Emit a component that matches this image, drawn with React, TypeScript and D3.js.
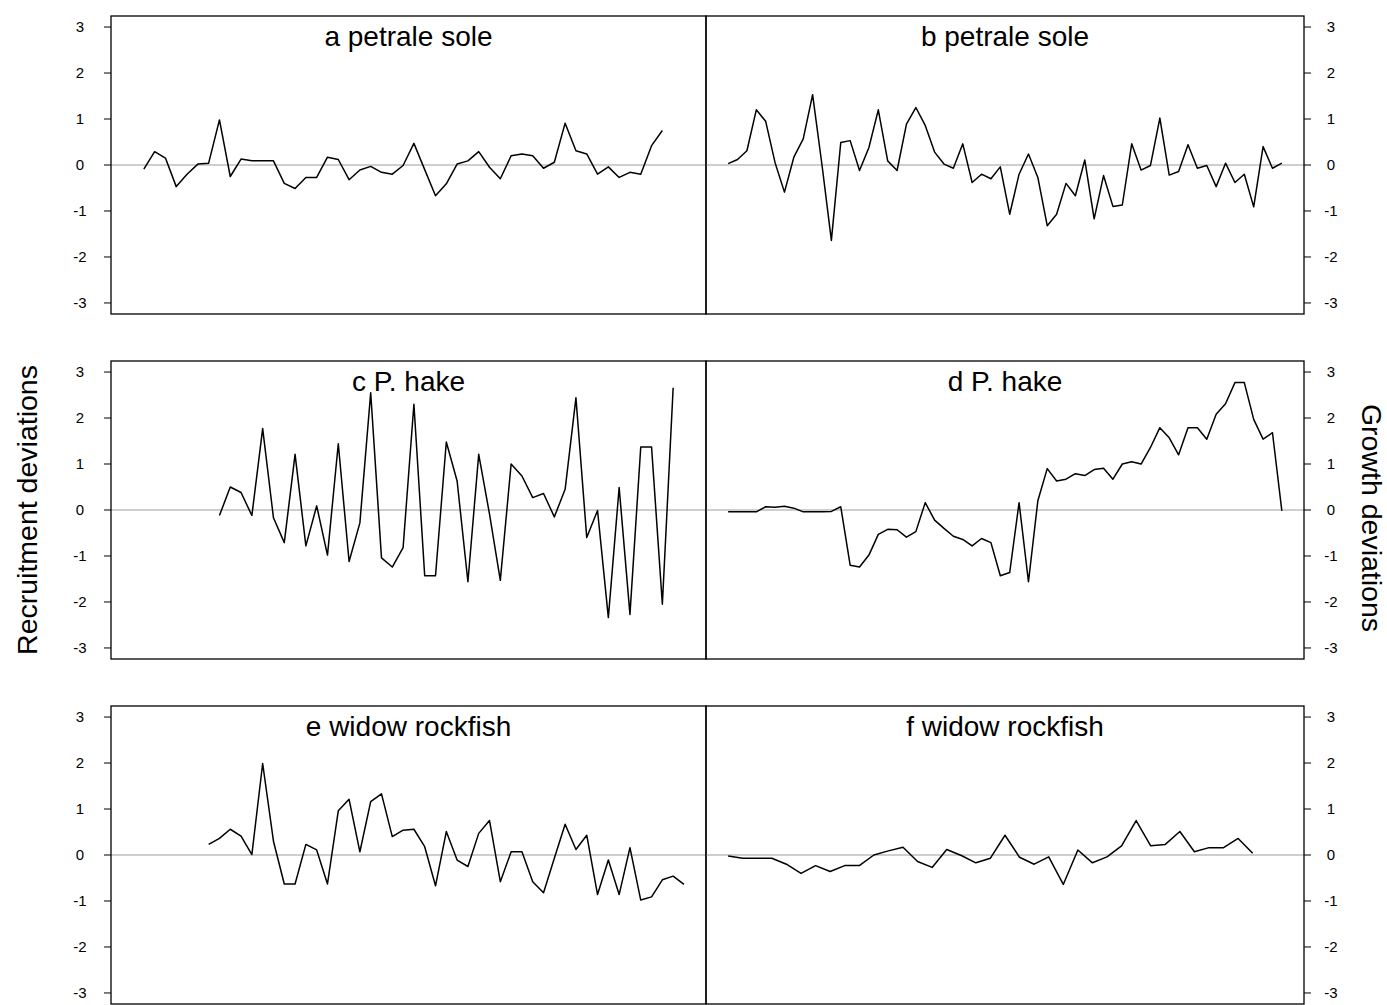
import React from "react";
import * as d3 from "d3";

// recruitment deviations (left column), index = year slot from 0..51
const petraleRec = [-0.09, 0.29, 0.15, -0.47, -0.2, 0.02, 0.04, 0.98, -0.25, 0.13, 0.09, 0.09, 0.09, -0.4, -0.51, -0.27, -0.27, 0.17, 0.12, -0.32, -0.11, -0.03, -0.16, -0.2, -0.01, 0.47, -0.1, -0.67, -0.41, 0.02, 0.09, 0.29, -0.05, -0.3, 0.2, 0.24, 0.2, -0.07, 0.06, 0.91, 0.31, 0.24, -0.2, -0.04, -0.27, -0.16, -0.2, 0.42, 0.75];
const hakeRec = [-0.12, 0.5, 0.38, -0.12, 1.77, -0.17, -0.71, 1.21, -0.78, 0.09, -0.98, 1.44, -1.12, -0.28, 2.55, -1.04, -1.24, -0.82, 2.3, -1.43, -1.43, 1.48, 0.63, -1.56, 1.21, -0.09, -1.53, 1.0, 0.74, 0.27, 0.36, -0.15, 0.45, 2.44, -0.6, -0.01, -2.34, 0.49, -2.27, 1.37, 1.37, -2.05, 2.66];
const widowRec = [0.23, 0.36, 0.56, 0.41, 0.01, 1.99, 0.3, -0.63, -0.63, 0.23, 0.11, -0.63, 0.96, 1.21, 0.07, 1.16, 1.33, 0.4, 0.54, 0.56, 0.18, -0.67, 0.51, -0.11, -0.25, 0.47, 0.75, -0.58, 0.07, 0.07, -0.58, -0.82, -0.07, 0.67, 0.12, 0.43, -0.86, -0.11, -0.86, 0.16, -0.98, -0.91, -0.54, -0.46, -0.64];

// growth deviations (right column)
const petraleGrowth = [0.03, 0.12, 0.31, 1.2, 0.95, 0.05, -0.59, 0.17, 0.57, 1.53, 0.0, -1.64, 0.49, 0.53, -0.12, 0.38, 1.2, 0.09, -0.12, 0.89, 1.25, 0.86, 0.28, 0.02, -0.07, 0.46, -0.38, -0.2, -0.3, -0.04, -1.07, -0.2, 0.24, -0.27, -1.32, -1.07, -0.4, -0.67, 0.11, -1.17, -0.23, -0.9, -0.87, 0.46, -0.11, -0.01, 1.02, -0.22, -0.14, 0.44, -0.07, -0.01, -0.47, 0.04, -0.38, -0.2, -0.91, 0.4, -0.07, 0.04];
const hakeGrowth = [-0.04, -0.04, -0.04, -0.04, 0.07, 0.06, 0.08, 0.04, -0.04, -0.04, -0.04, -0.03, 0.07, -1.2, -1.24, -0.98, -0.53, -0.42, -0.43, -0.59, -0.47, 0.16, -0.22, -0.4, -0.57, -0.64, -0.78, -0.62, -0.71, -1.43, -1.36, 0.16, -1.56, 0.2, 0.9, 0.63, 0.67, 0.79, 0.75, 0.88, 0.91, 0.67, 1.0, 1.05, 1.0, 1.36, 1.79, 1.57, 1.2, 1.79, 1.79, 1.54, 2.08, 2.31, 2.77, 2.77, 1.97, 1.54, 1.68, -0.02];
const widowGrowth = [-0.02, -0.07, -0.07, -0.07, -0.2, -0.4, -0.23, -0.36, -0.23, -0.23, 0.0, 0.09, 0.17, -0.14, -0.27, 0.12, -0.01, -0.17, -0.07, 0.43, -0.05, -0.2, -0.04, -0.64, 0.11, -0.17, -0.04, 0.2, 0.75, 0.2, 0.23, 0.51, 0.07, 0.16, 0.16, 0.36, 0.04];

const yTicks = [-3, -2, -1, 0, 1, 2, 3];

const panels = [
  { title: "a petrale sole", col: 0, row: 0, values: petraleRec, start: 1, last: 51 },
  { title: "b petrale sole", col: 1, row: 0, values: petraleGrowth, start: 0, last: 59 },
  { title: "c P. hake", col: 0, row: 1, values: hakeRec, start: 8, last: 51 },
  { title: "d P. hake", col: 1, row: 1, values: hakeGrowth, start: 0, last: 59 },
  { title: "e widow rockfish", col: 0, row: 2, values: widowRec, start: 7, last: 51 },
  { title: "f widow rockfish", col: 1, row: 2, values: widowGrowth, start: 0, last: 38 },
];

const colX = [111, 706, 1304];
const rowTop = [16, 361, 706];
const panelH = 298;
const font = "'Liberation Sans', Arial, sans-serif";

function Panel({ p }) {
  const x0 = colX[p.col];
  const x1 = colX[p.col + 1];
  const top = rowTop[p.row];

  const pad = p.last * 0.04;
  const x = d3.scaleLinear().domain([-pad, p.last + pad]).range([x0, x1]);
  const y = d3.scaleLinear().domain([-3.24, 3.24]).range([top + panelH, top]);

  const line = d3
    .line<number>()
    .x((d, i) => x(p.start + i))
    .y((d) => y(d));

  const left = p.col === 0;
  const axisX = left ? x0 : x1;

  return (
    <g>
      <line x1={x0} x2={x1} y1={y(0)} y2={y(0)} stroke="#bebebe" strokeWidth={1.3} />
      <path d={line(p.values) || ""} fill="none" stroke="#000" strokeWidth={1.5} strokeLinejoin="round" />
      <rect x={x0} y={top} width={x1 - x0} height={panelH} fill="none" stroke="#000" strokeWidth={1.3} />
      <text x={(x0 + x1) / 2} y={top + 30} textAnchor="middle" fontSize={28} fontFamily={font}>
        {p.title}
      </text>
      {yTicks.map((t) => (
        <g key={t}>
          <line
            x1={axisX}
            x2={left ? axisX - 7 : axisX + 7}
            y1={y(t)}
            y2={y(t)}
            stroke="#000"
            strokeWidth={1}
          />
          <text
            x={left ? axisX - 31 : axisX + 27}
            y={y(t)}
            dy="0.35em"
            textAnchor="middle"
            fontSize={15}
            fontFamily={font}
          >
            {t}
          </text>
        </g>
      ))}
    </g>
  );
}

export default function App() {
  return (
    <svg
      width={1387}
      height={1005}
      style={{ position: "absolute", left: 0, top: 0, background: "#fff" }}
    >
      {panels.map((p) => (
        <Panel key={p.title} p={p} />
      ))}
      <text
        transform="translate(37,510) rotate(-90)"
        textAnchor="middle"
        fontSize={28.5}
        fontFamily={font}
      >
        Recruitment deviations
      </text>
      <text
        transform="translate(1362,518) rotate(90)"
        textAnchor="middle"
        fontSize={28.5}
        fontFamily={font}
      >
        Growth deviations
      </text>
    </svg>
  );
}
